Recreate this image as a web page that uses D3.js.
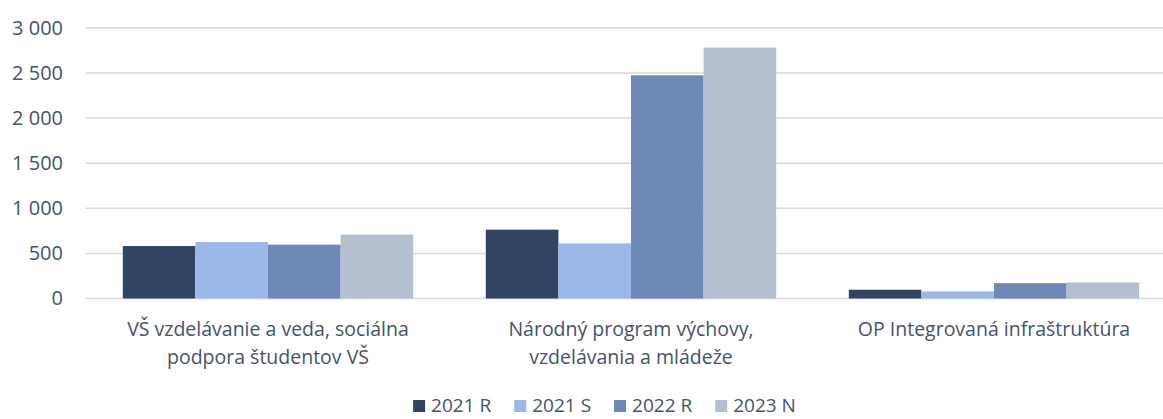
<!DOCTYPE html>
<html lang="sk">
<head>
<meta charset="UTF-8" />
<title>Výdavky podľa programov</title>
<style>
  html, body { margin: 0; padding: 0; background: #fff; }
  svg { display: block; font-family: "Open Sans", "Noto Sans", sans-serif; }
</style>
</head>
<body>
<script src="https://d3js.org/d3.v7.min.js"></script>
<script>
  const categories = [
    ["VŠ vzdelávanie a veda, sociálna", "podpora študentov VŠ"],
    ["Národný program výchovy,", "vzdelávania a mládeže"],
    ["OP Integrovaná infraštruktúra"]
  ];
  const seriesNames = ["2021 R", "2021 S", "2022 R", "2023 N"];
  const seriesColors = ["#314464", "#9cb8e8", "#6e89b8", "#b4bfd0"];
  const v2021R = [581, 763, 97];
  const v2021S = [626, 611, 78];
  const v2022R = [597, 2474, 170];
  const v2023N = [708, 2781, 178];
  const yTicks = [0, 500, 1000, 1500, 2000, 2500, 3000];

  const values = [v2021R, v2021S, v2022R, v2023N];
  const W = 1163, H = 419;
  const textColor = "#44546a";
  const fmt = d => d3.format(",")(d).replace(/,/g, " ");

  const svg = d3.select("body").append("svg").attr("width", W).attr("height", H);

  const catIdx = categories.map((c, i) => i);
  const x0 = d3.scaleBand().domain(catIdx).range([86.5, 1175.5]).paddingInner(0.2).paddingOuter(0.1);
  const x1 = d3.scaleBand().domain(seriesNames).range([0, x0.bandwidth()]);
  const y = d3.scaleLinear().domain([0, 3000]).range([298.5, 27.8]);

  // gridlines
  svg.append("g").selectAll("line").data(yTicks).join("line")
    .attr("x1", 86).attr("x2", W)
    .attr("y1", d => y(d)).attr("y2", d => y(d))
    .attr("stroke", "#d9d9d9").attr("stroke-width", 1.5);

  // y axis labels
  const yAxis = svg.append("g").attr("transform", "translate(63,0)")
    .call(d3.axisLeft(y).tickValues(yTicks).tickFormat(fmt).tickSize(0).tickPadding(0));
  yAxis.select(".domain").remove();
  yAxis.selectAll("text").attr("fill", textColor).style("font-size", "20px")
    .style("font-family", "'Open Sans', sans-serif");

  // bars
  const groups = svg.append("g").selectAll("g").data(catIdx).join("g")
    .attr("transform", i => `translate(${x0(i)},0)`);
  groups.selectAll("rect")
    .data(i => seriesNames.map((s, k) => ({ s, k, v: values[k][i] })))
    .join("rect")
    .attr("x", d => x1(d.s))
    .attr("width", x1.bandwidth())
    .attr("y", d => y(d.v))
    .attr("height", d => y(0) - y(d.v))
    .attr("fill", d => seriesColors[d.k]);

  // category labels
  const catG = svg.append("g").attr("fill", textColor).attr("text-anchor", "middle")
    .style("font-size", "19.5px");
  categories.forEach((lines, i) => {
    const t = catG.append("text").attr("x", x0(i) + x0.bandwidth() / 2).attr("y", 336);
    lines.forEach((ln, j) => {
      t.append("tspan").attr("x", x0(i) + x0.bandwidth() / 2).attr("dy", j === 0 ? 0 : 28).text(ln);
    });
  });

  // legend
  const leg = svg.append("g").style("font-size", "19px");
  let lx = 0;
  seriesNames.forEach((s, k) => {
    const g = leg.append("g").attr("transform", `translate(${lx},0)`);
    g.append("rect").attr("x", 0).attr("y", -12).attr("width", 12).attr("height", 12).attr("fill", seriesColors[k]);
    const t = g.append("text").attr("x", 18).attr("y", 0).attr("fill", textColor).text(s);
    const w = t.node().getComputedTextLength();
    lx += 18 + w + 23;
  });
  const totalW = lx - 23;
  leg.attr("transform", `translate(${604.5 - totalW / 2},412)`);
</script>
</body>
</html>
